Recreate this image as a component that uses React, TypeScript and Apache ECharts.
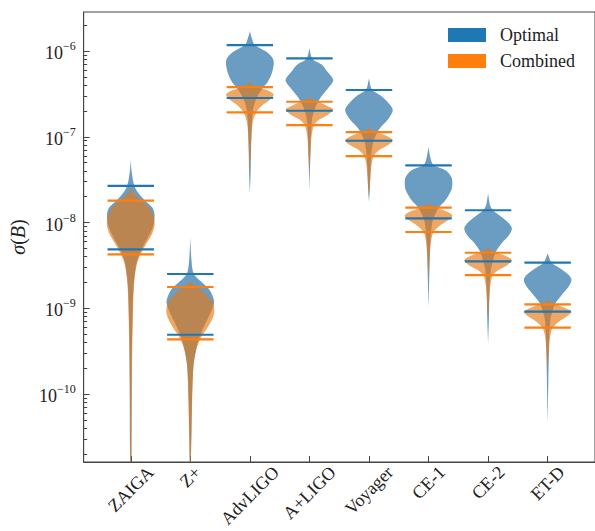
import React, { useEffect, useRef } from 'react';
import * as echarts from 'echarts';

// ---------- data ----------
const categories = ['ZAIGA', 'Z+', 'AdvLIGO', 'A+LIGO', 'Voyager', 'CE-1', 'CE-2', 'ET-D'];

// horizontal bars (sigma(B) values)
const optimalUpper = [2.67e-8, 2.51e-9, 1.17e-6, 8.22e-7, 3.51e-7, 4.65e-8, 1.39e-8, 3.4e-9];
const optimalLower = [4.87e-9, 4.91e-10, 2.83e-7, 2.01e-7, 8.99e-8, 1.12e-8, 3.53e-9, 9.12e-10];
const combinedUpper = [1.8e-8, 1.77e-9, 3.8e-7, 2.56e-7, 1.13e-7, 1.49e-8, 4.44e-9, 1.11e-9];
const combinedLower = [4.26e-9, 4.34e-10, 1.93e-7, 1.37e-7, 5.96e-8, 7.75e-9, 2.44e-9, 5.93e-10];

// violin outlines: [log10(sigma), relative density (1 = widest)]
const optimalProfiles: number[][][] = [
  [[-7.27, 0], [-7.41, 0.04], [-7.57, 0.15], [-7.66, 0.33], [-7.74, 0.58], [-7.83, 0.92], [-7.92, 1], [-8.04, 0.94], [-8.17, 0.73], [-8.31, 0.46], [-8.44, 0.27], [-8.64, 0.15], [-8.9, 0.09], [-9.29, 0.06], [-9.87, 0.04], [-10.65, 0.03], [-11.12, 0]],
  [[-8.18, 0], [-8.44, 0.05], [-8.6, 0.15], [-8.71, 0.54], [-8.79, 0.82], [-8.92, 1], [-9.02, 0.9], [-9.14, 0.7], [-9.31, 0.42], [-9.49, 0.24], [-9.68, 0.13], [-10.07, 0.07], [-10.45, 0.045], [-11.12, 0]],
  [[-5.77, 0], [-5.85, 0.083], [-5.93, 0.21], [-6.01, 0.7], [-6.09, 0.97], [-6.16, 1], [-6.26, 0.92], [-6.36, 0.75], [-6.43, 0.54], [-6.55, 0.28], [-6.67, 0.14], [-6.82, 0.09], [-7.13, 0.05], [-7.45, 0.03], [-7.66, 0]],
  [[-5.97, 0], [-6.09, 0.125], [-6.16, 0.52], [-6.24, 0.75], [-6.34, 1], [-6.43, 0.79], [-6.53, 0.5], [-6.63, 0.29], [-6.7, 0.2], [-6.78, 0.12], [-6.94, 0.07], [-7.21, 0.04], [-7.62, 0]],
  [[-6.32, 0], [-6.45, 0.125], [-6.53, 0.54], [-6.61, 0.83], [-6.69, 1], [-6.8, 0.79], [-6.9, 0.46], [-6.96, 0.33], [-7.05, 0.2], [-7.15, 0.12], [-7.35, 0.07], [-7.58, 0.04], [-7.76, 0]],
  [[-7.12, 0], [-7.25, 0.083], [-7.33, 0.21], [-7.39, 0.71], [-7.47, 0.96], [-7.54, 1], [-7.62, 0.96], [-7.74, 0.71], [-7.83, 0.42], [-7.95, 0.21], [-8.05, 0.13], [-8.24, 0.07], [-8.55, 0.04], [-8.98, 0]],
  [[-7.66, 0], [-7.8, 0.083], [-7.86, 0.21], [-7.93, 0.54], [-8.01, 0.875], [-8.07, 1], [-8.15, 0.875], [-8.24, 0.58], [-8.34, 0.33], [-8.45, 0.2], [-8.55, 0.12], [-8.73, 0.065], [-9.12, 0.035], [-9.41, 0]],
  [[-8.36, 0], [-8.47, 0.17], [-8.53, 0.5], [-8.61, 0.875], [-8.67, 1], [-8.75, 0.875], [-8.85, 0.58], [-8.94, 0.33], [-9.04, 0.2], [-9.12, 0.12], [-9.31, 0.07], [-9.7, 0.04], [-10.33, 0]],
];

const combinedProfiles: number[][][] = [
  [[-7.6, 0], [-7.66, 0.125], [-7.75, 0.46], [-7.83, 0.79], [-7.93, 0.96], [-8.03, 1], [-8.13, 0.9], [-8.24, 0.67], [-8.37, 0.42], [-8.48, 0.26], [-8.71, 0.14], [-9.1, 0.09], [-9.49, 0.06], [-10.07, 0.04], [-10.65, 0.03], [-11.12, 0]],
  [[-8.69, 0], [-8.75, 0.25], [-8.83, 0.625], [-8.94, 0.95], [-9.06, 1], [-9.18, 0.82], [-9.29, 0.57], [-9.36, 0.42], [-9.49, 0.24], [-9.68, 0.13], [-10.07, 0.08], [-10.45, 0.05], [-11.12, 0]],
  [[-6.35, 0], [-6.39, 0.08], [-6.42, 0.3], [-6.47, 0.83], [-6.51, 1], [-6.57, 0.83], [-6.63, 0.54], [-6.71, 0.28], [-6.82, 0.13], [-6.98, 0.07], [-7.21, 0.035], [-7.45, 0]],
  [[-6.53, 0], [-6.56, 0.08], [-6.59, 0.33], [-6.64, 0.75], [-6.68, 1], [-6.75, 0.75], [-6.8, 0.42], [-6.86, 0.21], [-6.94, 0.12], [-7.06, 0.07], [-7.25, 0.035], [-7.41, 0]],
  [[-6.88, 0], [-6.92, 0.08], [-6.95, 0.33], [-6.99, 0.75], [-7.04, 1], [-7.1, 0.79], [-7.15, 0.46], [-7.22, 0.21], [-7.31, 0.12], [-7.43, 0.07], [-7.58, 0.035], [-7.7, 0]],
  [[-7.77, 0], [-7.8, 0.08], [-7.83, 0.33], [-7.87, 0.75], [-7.92, 1], [-7.98, 0.79], [-8.04, 0.46], [-8.11, 0.21], [-8.2, 0.12], [-8.32, 0.07], [-8.48, 0.035], [-8.63, 0]],
  [[-8.28, 0], [-8.32, 0.08], [-8.35, 0.33], [-8.39, 0.75], [-8.44, 1], [-8.5, 0.79], [-8.55, 0.46], [-8.61, 0.21], [-8.69, 0.12], [-8.81, 0.07], [-8.96, 0.035], [-9.12, 0]],
  [[-8.9, 0], [-8.93, 0.08], [-8.95, 0.33], [-9.0, 0.75], [-9.04, 1], [-9.1, 0.79], [-9.16, 0.46], [-9.23, 0.21], [-9.31, 0.12], [-9.43, 0.07], [-9.58, 0.035], [-9.74, 0]],
];

// axis ticks
const majorExponents = [-10, -9, -8, -7, -6];
const minorMultipliers = [2, 3, 4, 5, 6, 7, 8, 9];
const minorDecades = [-11, -10, -9, -8, -7, -6];

// ---------- styling ----------
const FONT = '"Liberation Serif", "DejaVu Serif", serif';
const TEXT = '#222';
const AXIS = '#444';
const X_MIN = 0.2094;
const X_MAX = 8.7955;
const Y_MIN = -10.793;
const Y_MAX = -5.545;
const VIOLIN_HALF = 0.4;
const BAR_HALF = 0.39;
const BLUE = '#1f77b4';
const ORANGE = '#ff7f0e';
const BLUE_FILL = 'rgba(20,100,160,0.63)';
const ORANGE_FILL = 'rgba(230,120,20,0.65)';

function measure(text: string, font: string): number {
  const ctx = document.createElement('canvas').getContext('2d');
  if (!ctx) return text.length * 9;
  ctx.font = font;
  return ctx.measureText(text).width;
}

function violinRenderer(profiles: number[][][], fill: string) {
  return (params: any, api: any) => {
    const i = params.dataIndex;
    const x = api.value(0);
    const half = api.size([VIOLIN_HALF, 0])[0];
    const right: number[][] = [];
    const left: number[][] = [];
    for (const [e, w] of profiles[i]) {
      const p = api.coord([x, e]);
      right.push([p[0] + w * half, p[1]]);
      left.push([p[0] - w * half, p[1]]);
    }
    return {
      type: 'polygon',
      shape: { points: right.concat(left.reverse()), smooth: 0.3 },
      style: { fill, stroke: null },
    };
  };
}

function barRenderer(color: string) {
  return (params: any, api: any) => {
    const x = api.value(0);
    const half = api.size([BAR_HALF, 0])[0];
    const children = [1, 2].map((d) => {
      const p = api.coord([x, api.value(d)]);
      return {
        type: 'line',
        shape: { x1: p[0] - half, y1: p[1], x2: p[0] + half, y2: p[1] },
        style: { stroke: color, lineWidth: 2.2 },
      };
    });
    return { type: 'group', children };
  };
}

export default function App() {
  const ref = useRef<HTMLDivElement>(null);

  useEffect(() => {
    if (!ref.current) return;
    const chart = echarts.init(ref.current, undefined, { renderer: 'svg' });

    const positions = categories.map((_, i) => i + 1);
    const minorTicks: number[] = [];
    minorDecades.forEach((k) =>
      minorMultipliers.forEach((m) => {
        const v = k + Math.log10(m);
        if (v > Y_MIN && v < Y_MAX) minorTicks.push(v);
      })
    );

    const xRich: Record<string, any> = {};
    categories.forEach((c, i) => {
      const L = measure(c, `18px ${FONT}`);
      const p = (L + 12) / 2;
      xRich['c' + i] = { fontFamily: FONT, fontSize: 18, color: TEXT, padding: [p, p, 0, 0] };
    });

    const axisLineStyle = { color: AXIS, width: 1 };

    const option: any = {
      animation: false,
      backgroundColor: '#fff',
      grid: {
        left: 80,
        top: 12,
        width: 518,
        height: 450,
        show: true,
        borderColor: AXIS,
        borderWidth: 1,
        backgroundColor: 'transparent',
      },
      legend: {
        orient: 'vertical',
        left: 448,
        top: 25,
        padding: 0,
        itemWidth: 38,
        itemHeight: 14,
        itemGap: 6,
        icon: 'rect',
        selectedMode: false,
        textStyle: { fontFamily: FONT, fontSize: 18, color: TEXT, lineHeight: 20, padding: [0, 0, 0, 9] },
        data: [
          { name: 'Optimal', itemStyle: { color: BLUE, opacity: 1, borderWidth: 0 } },
          { name: 'Combined', itemStyle: { color: ORANGE, opacity: 1, borderWidth: 0 } },
        ],
      },
      xAxis: {
        type: 'value',
        min: X_MIN,
        max: X_MAX,
        axisLine: { show: true, onZero: false, lineStyle: axisLineStyle },
        axisTick: { show: true, inside: true, length: 6, customValues: positions, lineStyle: axisLineStyle },
        axisLabel: {
          customValues: positions,
          rotate: 45,
          align: 'center',
          verticalAlign: 'middle',
          margin: 3,
          formatter: (v: number) => {
            const i = Math.round(v) - 1;
            return `{c${i}|${categories[i]}}`;
          },
          rich: xRich,
        },
        splitLine: { show: false },
      },
      yAxis: [
        {
          type: 'value',
          position: 'left',
          min: Y_MIN,
          max: Y_MAX,
          axisLine: { show: true, lineStyle: axisLineStyle },
          axisTick: { show: true, inside: true, length: 6, customValues: majorExponents, lineStyle: axisLineStyle },
          axisLabel: {
            customValues: majorExponents,
            margin: 8,
            formatter: (v: number) => `{b|10}{s|\u2212${Math.abs(Math.round(v))}}`,
            rich: {
              b: { fontFamily: FONT, fontSize: 18, color: TEXT, lineHeight: 22, verticalAlign: 'bottom' },
              s: { fontFamily: FONT, fontSize: 12, color: TEXT, lineHeight: 12, verticalAlign: 'top' },
            },
          },
          splitLine: { show: false },
          name: '{i|σ}{n|(}{i|B}{n|)}',
          nameLocation: 'middle',
          nameRotate: 90,
          nameGap: 48,
          nameTextStyle: {
            rich: {
              i: { fontFamily: FONT, fontStyle: 'italic', fontSize: 20, color: TEXT },
              n: { fontFamily: FONT, fontSize: 20, color: TEXT },
            },
          },
        },
        {
          type: 'value',
          position: 'left',
          offset: 0,
          min: Y_MIN,
          max: Y_MAX,
          axisLine: { show: false },
          axisTick: { show: true, inside: true, length: 3.5, customValues: minorTicks, lineStyle: axisLineStyle },
          axisLabel: { show: false },
          splitLine: { show: false },
        },
      ],
      series: [
        {
          name: 'Optimal',
          type: 'custom',
          clip: true,
          z: 2,
          renderItem: violinRenderer(optimalProfiles, BLUE_FILL),
          encode: { x: 0, y: 1 },
          data: categories.map((_, i) => [i + 1, optimalProfiles[i][0][0]]),
        },
        {
          name: 'Combined',
          type: 'custom',
          clip: true,
          z: 3,
          renderItem: violinRenderer(combinedProfiles, ORANGE_FILL),
          encode: { x: 0, y: 1 },
          data: categories.map((_, i) => [i + 1, combinedProfiles[i][0][0]]),
        },
        {
          name: 'Optimal',
          type: 'custom',
          clip: true,
          z: 4,
          renderItem: barRenderer(BLUE),
          encode: { x: 0, y: [1, 2] },
          data: categories.map((_, i) => [i + 1, Math.log10(optimalUpper[i]), Math.log10(optimalLower[i])]),
        },
        {
          name: 'Combined',
          type: 'custom',
          clip: true,
          z: 5,
          renderItem: barRenderer(ORANGE),
          encode: { x: 0, y: [1, 2] },
          data: categories.map((_, i) => [i + 1, Math.log10(combinedUpper[i]), Math.log10(combinedLower[i])]),
        },
      ],
    };

    chart.setOption(option);
    return () => chart.dispose();
  }, []);

  return (
    <div
      ref={ref}
      style={{ position: 'fixed', left: 0, top: 0, width: 595, height: 531, background: '#fff' }}
    />
  );
}
